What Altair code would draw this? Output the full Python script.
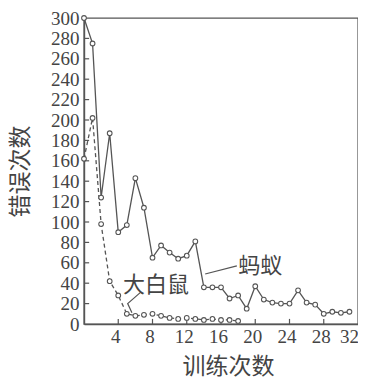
import altair as alt
import pandas as pd

ant_trials = list(range(0, 32))
ant_errors = [300, 275, 124, 187, 90, 97, 143, 114, 65, 77, 70, 64, 67, 81, 36, 36,
              36, 25, 28, 15, 37, 24, 21, 20, 20, 33, 21, 19, 10, 12, 11, 12]
rat_trials = list(range(0, 19))
rat_errors = [162, 202, 98, 42, 28, 10, 8, 9, 10, 8, 6, 5, 6, 5, 4, 5, 4, 4, 3]

x_ticks = [4, 8, 12, 16, 20, 24, 28, 32]
y_ticks = list(range(0, 301, 20))

labels_text = ["蚂蚁", "大白鼠"]
labels_t = [18.0, 4.55]
labels_v = [57, 38]

ant_ptr_t = [14.15, 17.85]
ant_ptr_v = [49, 57]
rat_ptr_t = [6.6, 5.1, 5.6]
rat_ptr_v = [31, 20, 11]

FONT = "Liberation Serif, Noto Sans CJK SC"
NUMFONT = "Liberation Serif"
GRAY = "#555555"
TXT = "#444444"
LEAD = "\u00a0"

ant = pd.DataFrame({"t": ant_trials, "v": ant_errors})
rat = pd.DataFrame({"t": rat_trials, "v": rat_errors})
lab = pd.DataFrame({"t": labels_t, "v": labels_v, "s": labels_text})
ant_ptr = pd.DataFrame({"t": ant_ptr_t, "v": ant_ptr_v, "o": [0, 1]})
rat_ptr = pd.DataFrame({"t": rat_ptr_t, "v": rat_ptr_v, "o": [0, 1, 2]})
ytk = pd.DataFrame({"v": y_ticks[1:-1], "t": 0, "t1": 0.6})
xtk = pd.DataFrame({"t": x_ticks[:-1], "v": 0, "v1": 5})

xlab_mid = pd.DataFrame({"t": x_ticks[:-1], "s": [LEAD + str(x) for x in x_ticks[:-1]]})
xlab_end = pd.DataFrame({"t": x_ticks[-1:], "s": [str(x) for x in x_ticks[-1:]]})

xs = alt.Scale(domain=[0, 32], nice=False, zero=False)
ys = alt.Scale(domain=[0, 300], nice=False)

X_axis = alt.Axis(values=x_ticks, title="训练次数", ticks=False, grid=False,
                  labels=False, titleX=144, titleY=42, titleBaseline="middle",
                  titleAlign="center")
Y_axis = alt.Axis(values=y_ticks, title="错误次数", ticks=False, grid=False,
                  labelPadding=5, titleX=-64, titleY=153, titleBaseline="middle",
                  titleAlign="center", labelFlush=False, labelOverlap=False)

X = alt.X("t:Q", scale=xs, axis=X_axis)
Y = alt.Y("v:Q", scale=ys, axis=Y_axis)

ant_line = alt.Chart(ant).mark_line(color=GRAY, strokeWidth=1.3).encode(x=X, y=Y)
ant_pts = alt.Chart(ant).mark_point(filled=True, fill="white", stroke=GRAY,
                                    strokeWidth=1.1, size=22, opacity=1).encode(x=X, y=Y)
rat_line = alt.Chart(rat).mark_line(color=GRAY, strokeWidth=1.3,
                                    strokeDash=[4, 3]).encode(x=X, y=Y)
rat_pts = alt.Chart(rat).mark_point(filled=True, fill="white", stroke=GRAY,
                                    strokeWidth=1.1, size=22, opacity=1).encode(x=X, y=Y)

texts = alt.Chart(lab).mark_text(align="left", baseline="middle", fontSize=22,
                                 font=FONT, color=TXT).encode(x=X, y=Y, text="s:N")
ptr1 = alt.Chart(ant_ptr).mark_line(color=GRAY, strokeWidth=1.2).encode(
    x=X, y=Y, order="o:Q")
ptr2 = alt.Chart(rat_ptr).mark_line(color=GRAY, strokeWidth=1.2).encode(
    x=X, y=Y, order="o:Q")

ytick_layer = alt.Chart(ytk).mark_rule(color=GRAY, strokeWidth=1.2).encode(
    x=X, x2="t1:Q", y=Y)
xtick_layer = alt.Chart(xtk).mark_rule(color=GRAY, strokeWidth=1.2).encode(
    x=X, y=Y, y2="v1:Q")

xl1 = alt.Chart(xlab_mid).mark_text(align="center", baseline="middle", fontSize=19,
                                    font=NUMFONT, color=TXT, dx=-2.4).encode(
    x=X, y=alt.value(319), text=alt.Text("s:N"))
xl2 = alt.Chart(xlab_end).mark_text(align="right", baseline="middle", fontSize=19,
                                    font=NUMFONT, color=TXT, dx=1).encode(
    x=X, y=alt.value(319), text=alt.Text("s:N"))

chart = alt.layer(ant_line, rat_line, ytick_layer, xtick_layer, ptr1, ptr2,
                  ant_pts, rat_pts, texts, xl1, xl2).properties(
    width=274, height=306,
    autosize=alt.AutoSizeParams(type="none"),
    padding={"left": 76, "top": 10, "right": 0, "bottom": 54},
).configure_view(stroke=GRAY, strokeWidth=1.4).configure_axis(
    domainColor=GRAY, domainWidth=1.4, labelFont=FONT, labelFontSize=19,
    labelColor=TXT, titleFont=FONT, titleFontSize=23, titleFontWeight="normal",
    titleColor=TXT,
)

chart.save("out.html", embed_options={"renderer": "svg", "actions": False})
